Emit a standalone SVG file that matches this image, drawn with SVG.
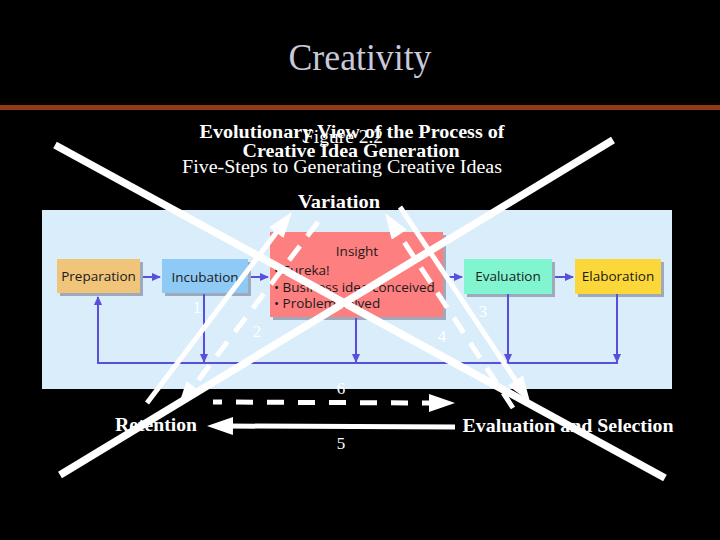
<svg xmlns="http://www.w3.org/2000/svg" width="720" height="540" viewBox="0 0 720 540">
<defs>
<style>
.ser{font-family:"Liberation Serif","Times New Roman",serif;fill:#fff}
.b{font-weight:bold;font-size:19px}
.r{font-size:19px}
.num{font-family:"Liberation Serif","Times New Roman",serif;font-size:17px;fill:#fff;text-anchor:middle}
.box{stroke:none}
.shadow{fill:#9eaabb}
.bt{font-family:"Open Sans","DejaVu Sans",sans-serif;font-size:13.5px;fill:#1a1a1a;text-anchor:middle}
.it{font-family:"Open Sans","DejaVu Sans",sans-serif;font-size:13.5px;fill:#1a1a1a}
.pl{stroke:#5a4fdc;stroke-width:2;fill:none}
.wa{stroke:#fff;stroke-width:5;fill:none}
.wd{stroke:#fff;stroke-width:5;fill:none;stroke-dasharray:18 12}
.x{stroke:#fff;stroke-width:7.5;fill:none}
</style>
<marker id="pa" markerUnits="userSpaceOnUse" markerWidth="10" markerHeight="10" refX="8" refY="4" orient="auto"><path d="M0,0 L9,4 L0,8 Z" fill="#5a4fdc"/></marker>
<marker id="wh" markerUnits="userSpaceOnUse" markerWidth="30" markerHeight="20" refX="6" refY="9" orient="auto"><path d="M0,0 L26,9 L0,18 Z" fill="#fff"/></marker>
</defs>
<rect x="0" y="0" width="720" height="540" fill="#000"/>
<text class="ser" x="360" y="70" font-size="37" text-anchor="middle" textLength="143" lengthAdjust="spacingAndGlyphs" style="fill:#c8c9da">Creativity</text>
<rect x="0" y="105" width="720" height="5" fill="#93391a"/>
<text class="ser b" x="352" y="138" text-anchor="middle" textLength="305" lengthAdjust="spacingAndGlyphs">Evolutionary View of the Process of</text>
<text class="ser r" x="343" y="143" text-anchor="middle" textLength="80" lengthAdjust="spacingAndGlyphs">Figure 2.2</text>
<text class="ser b" x="351" y="157" text-anchor="middle" textLength="217" lengthAdjust="spacingAndGlyphs">Creative Idea Generation</text>
<text class="ser r" x="342" y="173" text-anchor="middle" textLength="320" lengthAdjust="spacingAndGlyphs">Five-Steps to Generating Creative Ideas</text>
<text class="ser b" x="339" y="208" text-anchor="middle" textLength="82" lengthAdjust="spacingAndGlyphs">Variation</text>
<rect x="42" y="210" width="630" height="179" fill="#d9edfb"/>
<g id="preparation"><rect class="shadow" x="60" y="262" width="83" height="34"/><rect class="box" x="57" y="259" width="83" height="34" fill="#f0c479"/><text class="bt" x="98.5" y="281">Preparation</text></g>
<g id="incubation"><rect class="shadow" x="165" y="262" width="86" height="34"/><rect class="box" x="162" y="259" width="86" height="34" fill="#8ecaf5"/><text class="bt" x="205" y="282">Incubation</text></g>
<g id="insight"><rect class="shadow" x="273" y="235" width="173" height="85"/><rect class="box" x="270" y="232" width="173" height="85" fill="#fd7f7f"/><text class="bt" x="357" y="256">Insight</text><text class="it" x="274" y="275">• Eureka!</text><text class="it" x="274" y="292">• Business idea conceived</text><text class="it" x="274" y="308">• Problem solved</text></g>
<g id="evaluation"><rect class="shadow" x="467" y="262" width="88" height="35"/><rect class="box" x="464" y="259" width="88" height="35" fill="#80f5cf"/><text class="bt" x="508" y="281">Evaluation</text></g>
<g id="elaboration"><rect class="shadow" x="578" y="262" width="86" height="35"/><rect class="box" x="575" y="259" width="86" height="35" fill="#fcd73a"/><text class="bt" x="618" y="281">Elaboration</text></g>
<g id="connectors">
<line class="pl" x1="143" y1="277" x2="160" y2="277" marker-end="url(#pa)"/>
<line class="pl" x1="251" y1="277" x2="268" y2="277" marker-end="url(#pa)"/>
<line class="pl" x1="447" y1="277" x2="462" y2="277" marker-end="url(#pa)"/>
<line class="pl" x1="555" y1="277" x2="573" y2="277" marker-end="url(#pa)"/>
<polyline class="pl" points="617,294 617,363 98,363 98,297" marker-end="url(#pa)"/>
<line class="pl" x1="204" y1="294" x2="204" y2="362" marker-end="url(#pa)"/>
<line class="pl" x1="356" y1="318" x2="356" y2="362" marker-end="url(#pa)"/>
<line class="pl" x1="508" y1="294" x2="508" y2="362" marker-end="url(#pa)"/>
<line class="pl" x1="617" y1="294" x2="617" y2="362" marker-end="url(#pa)"/>
<line class="wa" x1="147" y1="403" x2="279.9" y2="227.9" marker-end="url(#wh)"/>
<line class="wd" x1="318" y1="222" x2="190.1" y2="391.1" marker-end="url(#wh)"/>
<line class="wa" x1="400" y1="207" x2="518.9" y2="385.4" marker-end="url(#wh)"/>
<line class="wd" x1="513" y1="408" x2="396" y2="229.7" marker-end="url(#wh)"/>
<line class="wa" x1="455" y1="427" x2="227" y2="426" marker-end="url(#wh)"/>
<line class="wa" x1="213" y1="402" x2="435" y2="403" style="stroke-dasharray:17 14;stroke-dashoffset:8" marker-end="url(#wh)"/>
</g>
<text class="num" x="197" y="313">1</text>
<text class="num" x="257" y="337">2</text>
<text class="num" x="483" y="317">3</text>
<text class="num" x="442" y="342">4</text>
<text class="num" x="341" y="449">5</text>
<text class="num" x="341" y="394">6</text>
<text class="ser b" x="156" y="431" text-anchor="middle" textLength="82" lengthAdjust="spacingAndGlyphs">Retention</text>
<text class="ser b" x="568" y="432" text-anchor="middle" textLength="211" lengthAdjust="spacingAndGlyphs">Evaluation and Selection</text>
<line class="x" x1="55" y1="145" x2="665" y2="478"/>
<line class="x" x1="613" y1="140" x2="60" y2="475"/>
</svg>
